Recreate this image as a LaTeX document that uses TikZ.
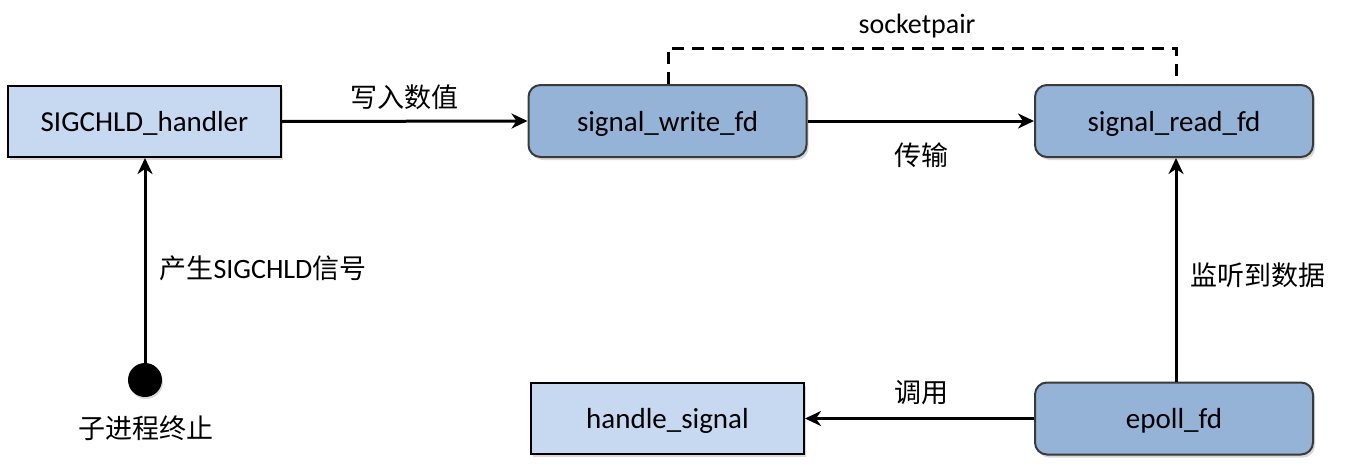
\documentclass[tikz,border=0pt]{standalone}
\usepackage{fontspec}
\setmainfont{Carlito}
\newfontfamily\cjk{Noto Sans CJK SC}
\usetikzlibrary{arrows.meta,shadows}
\definecolor{lightbox}{HTML}{C6D9F1}
\definecolor{darkbox}{HTML}{95B3D7}
\definecolor{boxedge}{HTML}{3A3A3A}
\tikzset{
  base/.style={minimum width=273pt,minimum height=71pt,inner sep=0pt,text depth=0pt,font=\fontsize{29}{32}\selectfont,
    drop shadow={shadow xshift=2pt,shadow yshift=-3pt,opacity=0.25,fill=black!60}},
  plainbox/.style={base,rectangle,draw=black,line width=2pt,fill=lightbox},
  roundbox/.style={base,rectangle,rounded corners=12pt,draw=boxedge,line width=2pt,fill=darkbox,minimum width=278pt,minimum height=72pt},
  conn/.style={line width=3pt,-{Stealth[length=16pt,width=15pt,inset=5pt]}},
  lbl/.style={font=\fontsize{28}{30}\selectfont},
  clbl/.style={font=\cjk\fontsize{27}{30}\selectfont},
}
\begin{document}
\begin{tikzpicture}[x=1pt,y=-1pt]
\useasboundingbox (0,0) rectangle (1354,466);
\node[plainbox] (handler) at (144.5,121.5) {SIGCHLD\_handler};
\node[roundbox] (write) at (667.5,121) {signal\_write\_fd};
\node[roundbox] (read) at (1174,121) {signal\_read\_fd};
\node[plainbox] (handle) at (667.5,418.5) {handle\_signal};
\node[roundbox] (epoll) at (1174,418.5) {epoll\_fd};
\node[circle,fill=black,minimum size=34pt,inner sep=0pt,
  drop shadow={shadow xshift=1pt,shadow yshift=-2pt,opacity=0.25,fill=black!60}] (dot) at (145,380) {};
\node[clbl] (lterm) at (146,428) {子进程终止};
\coordinate (dl) at (668,48);
\coordinate (dr) at (1176,48);
\draw[conn] (dot.north) -- (handler.south -| dot.north);
\draw[conn] (handler.east) -- (write.west);
\draw[conn] (write.east) -- (read.west);
\draw[conn] (epoll.north -| dr) -- (read.south -| dr);
\draw[conn] (epoll.west) -- (handle.east);
\draw[line width=3pt,dash pattern=on 12pt off 8pt] (write.north -| dl) -- (dl) -- (dr) -- (read.north -| dr);
\node[clbl] (l1) at (404,97) {写入数值};
\node[clbl] (l2) at (921,155) {传输};
\node[lbl] (l3) at (917,26) {socketpair};
\node[font=\fontsize{28}{30}\selectfont] (l4) at (263,268) {{\cjk\fontsize{27}{30}\selectfont 产生}SIGCHLD{\cjk\fontsize{27}{30}\selectfont 信号}};
\node[clbl] (l5) at (1258,275) {监听到数据};
\node[clbl] (l6) at (921,393) {调用};
\end{tikzpicture}
\end{document}
